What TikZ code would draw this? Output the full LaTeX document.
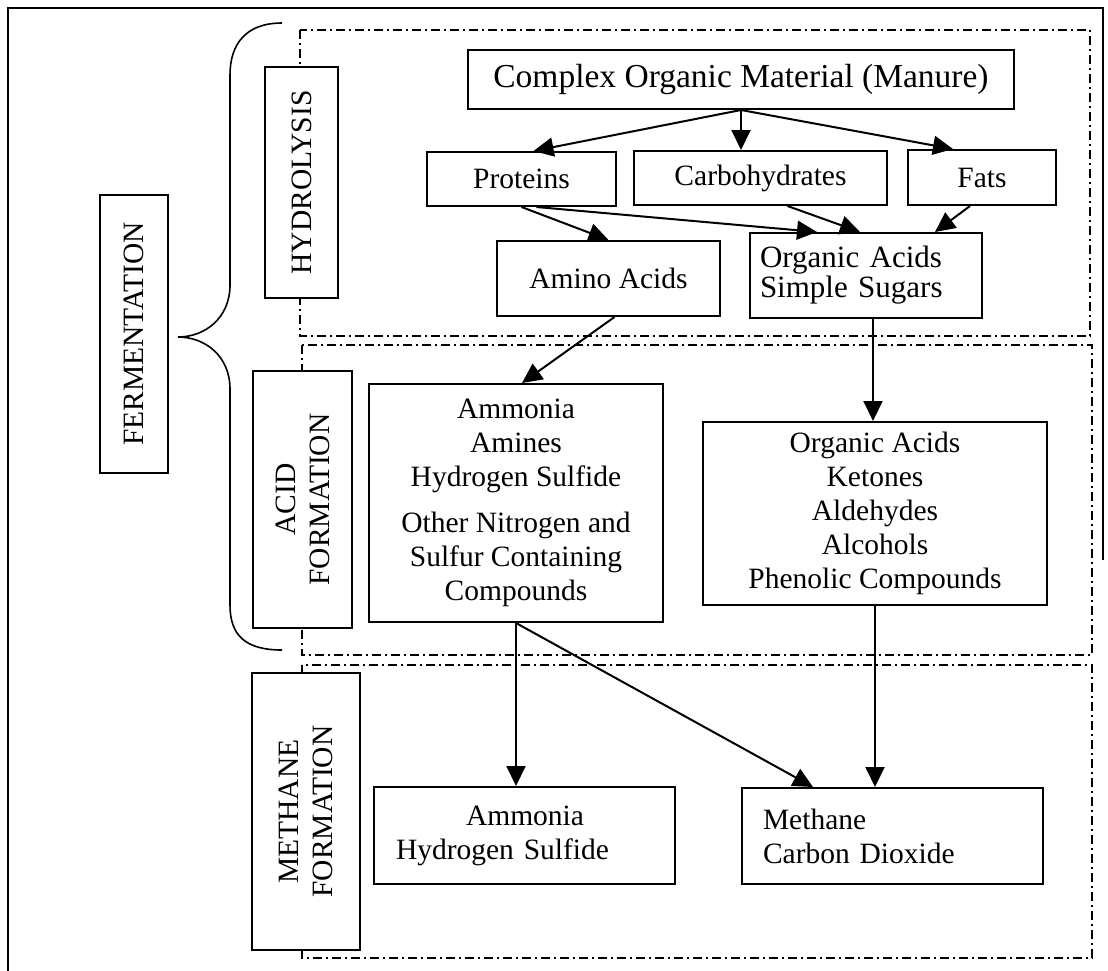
\documentclass[tikz,border=0pt]{standalone}
\usepackage{fontspec}
\setmainfont{Liberation Serif}
\usetikzlibrary{arrows.meta}

\begin{document}
\begin{tikzpicture}[
    x=1pt, y=-1pt,
  	every node/.style = {shape=rectangle, draw, fill=white,
    line width=2pt, align=center, inner sep=0pt,
    font=\fontsize{29.5}{34}\selectfont},
    tag/.style={rotate=90},
    flow/.style={line width=2pt, -{Triangle[length=20pt,width=19pt]}},
    phase/.style={line width=1.4pt, dash pattern=on 9pt off 4pt on 2pt off 4pt},
    ]
  \useasboundingbox (0,0) rectangle (1108,970);
  \draw[line width=1.4pt] (8,975) |- (1103,8) -- (1103,560);

  \draw[phase] (300,30) rectangle (1090,336);
  \draw[phase] (302,345) rectangle (1092,655);
  \draw[phase] (302,665) rectangle (1092,958);

  \draw[line width=1.6pt] (282,23) .. controls (245,23) and (230,45) .. (230,75)
    -- (230,285) .. controls (230,318) and (205,337) .. (178,337)
    .. controls (205,337) and (230,356) .. (230,389)
    -- (230,605) .. controls (230,635) and (245,650) .. (282,650);

  \node[tag, minimum width=278pt, minimum height=68pt] (ferment) at (134,334) {FERMENTATION};
  \node[tag, minimum width=231pt, minimum height=73pt] (hydro) at (301.5,182.5) {HYDROLYSIS};
  \node[tag, minimum width=257pt, minimum height=99pt] (acid) at (302.5,499.5) {ACID\\FORMATION};
  \node[tag, minimum width=277pt, minimum height=108pt] (methform) at (306,811.5) {METHANE\\FORMATION};

  \node[minimum width=546pt, minimum height=59pt, font=\fontsize{33.5}{38}\selectfont] (manure) at (741,79.5)
    {Complex Organic Material (Manure)};
  \node[minimum width=189pt, minimum height=54pt] (proteins) at (521.5,179) {Proteins};
  \node[minimum width=253pt, minimum height=54pt] (carbs) at (760.5,178) {Carbohydrates};
  \node[minimum width=148pt, minimum height=55pt] (fats) at (982,177.5) {Fats};
  \node[minimum width=223pt, minimum height=75pt] (amino) at (608.5,278.5) {Amino Acids};
  \node[align=left, text width=212pt, inner xsep=10pt, minimum height=85pt,
    font=\fontsize{31}{35}\selectfont] (sugars) at (866,275.5)
    {Organic Acids\\[-5pt]Simple Sugars};
  \node[minimum width=294pt, minimum height=238pt] (nitro) at (516,503)
    {Ammonia\\Amines\\Hydrogen Sulfide\\[12pt]Other Nitrogen and\\Sulfur Containing\\Compounds};
  \node[minimum width=344pt, minimum height=183pt] (ketones) at (875,513.5)
    {Organic Acids\\Ketones\\Aldehydes\\Alcohols\\Phenolic Compounds};
  \node[align=left, text width=257pt, inner xsep=22pt, minimum height=97pt] (nh3) at (524.5,835.5)
    {\hspace*{70pt}Ammonia\\Hydrogen Sulfide};
  \node[align=left, text width=259pt, inner xsep=21pt, minimum height=96pt] (gas) at (892.5,836)
    {Methane\\Carbon Dioxide};

  \draw[flow] (manure.south) -- ([xshift=12pt]proteins.north);
  \draw[flow] (manure.south) -- (manure.south |- carbs.north);
  \draw[flow] (manure.south) -- ([xshift=-29pt]fats.north);
  \draw[flow] (proteins.south) -- (amino.north);
  \draw[flow] ([xshift=15pt]proteins.south) -- ([xshift=-49pt]sugars.north);
  \draw[flow] ([xshift=27pt]carbs.south) -- ([xshift=-6pt]sugars.north);
  \draw[flow] ([xshift=-12pt]fats.south) -- ([xshift=69pt]sugars.north);
  \draw[flow] ([xshift=6pt]amino.south) -- ([xshift=6pt]nitro.north);
  \draw[flow] ([xshift=-2pt]ketones.north |- sugars.south) -- ([xshift=-2pt]ketones.north);
  \draw[flow] (nitro.south) -- (nitro.south |- nh3.north);
  \draw[flow] (nitro.south) -- ([xshift=-79.5pt]gas.north);
  \draw[flow] (ketones.south) -- (ketones.south |- gas.north);
\end{tikzpicture}
\end{document}
